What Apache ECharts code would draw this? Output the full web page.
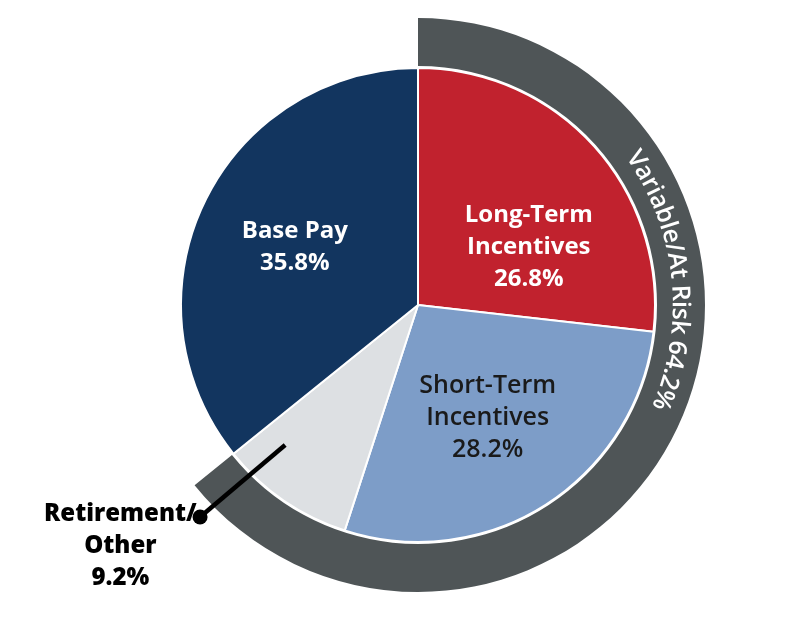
<!DOCTYPE html>
<html>
<head>
<meta charset="utf-8">
<script src="https://cdn.jsdelivr.net/npm/echarts@6/dist/echarts.min.js"></script>
<style>
html,body{margin:0;padding:0;background:#fff;}
#chart{width:791px;height:622px;}
</style>
</head>
<body>
<div id="chart"></div>
<script>
// ---- data ----
const categories = ['Long-Term\nIncentives', 'Short-Term\nIncentives', 'Retirement/\nOther', 'Base Pay'];
const values = [26.8, 28.2, 9.2, 35.8];
const ringCategories = ['Variable/At Risk', 'Fixed'];
const ringValues = [64.2, 35.8];

// ---- layout / style ----
const CX = 418, CY = 305, R = 237;
const colors = ['#c1222e', '#7d9dc8', '#dde0e3', '#12355f'];
const labelColors = ['#ffffff', '#1a1a1a', '#000000', '#ffffff'];
const labelWeights = [700, 600, 800, 700];
const labelSizes = [24, 25, 24, 24];
const labelPolar = [[62.4, 125], [148.4, 133], [231, 383], [295.1, 136]];
const FONT = '"Open Sans", sans-serif';

function polar(deg, r) {
  const a = deg * Math.PI / 180;
  return [CX + r * Math.sin(a), CY - r * Math.cos(a)];
}

const chart = echarts.init(document.getElementById('chart'), null, {renderer: 'canvas'});

// curved ring text
const ringText = ringCategories[0] + ' ' + ringValues[0] + '%';
const ringFontSize = 25;
const ringFont = '600 ' + ringFontSize + 'px ' + FONT;
const cv = document.createElement('canvas').getContext('2d');
cv.font = ringFont;
const widths = Array.from(ringText).map(ch => cv.measureText(ch).width);
const total = widths.reduce((a, b) => a + b, 0);
const rText = 262;
const midDeg = 84;
const startDeg = midDeg - (total / rText) * 180 / Math.PI / 2;
const graphics = [];
let cum = 0;
Array.from(ringText).forEach((ch, i) => {
  const deg = startDeg + ((cum + widths[i] / 2) / rText) * 180 / Math.PI;
  cum += widths[i];
  const p = polar(deg, rText);
  graphics.push({
    type: 'text', x: p[0], y: p[1], rotation: -deg * Math.PI / 180, silent: true, z: 100,
    style: {text: ch, fill: '#ffffff', font: ringFont, align: 'center', verticalAlign: 'middle'}
  });
});

// leader line for Retirement/Other
const lp1 = polar(223.5, 193), lp2 = polar(225.8, 304);
graphics.push({
  type: 'line', silent: true, z: 100,
  shape: {x1: lp1[0], y1: lp1[1], x2: lp2[0], y2: lp2[1]},
  style: {stroke: '#000', lineWidth: 4.5}
});
graphics.push({
  type: 'circle', silent: true, z: 100,
  shape: {cx: lp2[0], cy: lp2[1], r: 7.5},
  style: {fill: '#000'}
});

chart.setOption({
  animation: false,
  backgroundColor: '#ffffff',
  graphic: graphics,
  series: [
    {
      type: 'pie',
      center: [CX, CY],
      radius: [0, R],
      startAngle: 90,
      clockwise: true,
      silent: true,
      data: categories.map((c, i) => ({
        name: c, value: values[i],
        itemStyle: {color: colors[i], borderColor: '#ffffff', borderWidth: 2},
        label: {color: labelColors[i], fontWeight: labelWeights[i], fontSize: labelSizes[i]}
      })),
      label: {
        show: true, position: 'inside', formatter: '{b}\n{c}%',
        fontFamily: FONT, fontSize: 24, lineHeight: 32, align: 'center'
      },
      labelLine: {show: false},
      labelLayout: function (params) {
        const lp = labelPolar[params.dataIndex];
        const p = polar(lp[0], lp[1]);
        return {x: p[0], y: p[1], align: 'center', verticalAlign: 'middle'};
      }
    },
    {
      type: 'pie',
      center: [CX, CY],
      radius: [R + 2, 287],
      startAngle: 90,
      clockwise: true,
      silent: true,
      label: {show: false},
      labelLine: {show: false},
      data: ringCategories.map((c, i) => ({
        name: c, value: ringValues[i],
        itemStyle: {color: i === 0 ? '#4f5557' : 'rgba(0,0,0,0)', borderWidth: 0}
      }))
    }
  ]
});
</script>
</body>
</html>
